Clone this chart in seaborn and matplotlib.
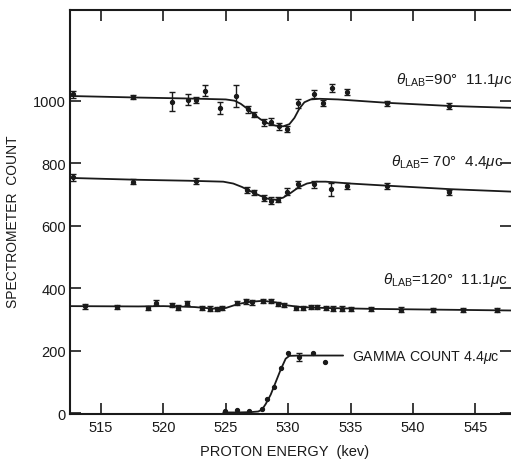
import numpy as np
import matplotlib
matplotlib.use("Agg")
import matplotlib.pyplot as plt
import seaborn as sns

# --- data --------------------------------------------------------------
# theta_lab = 90 deg, 11.1 uc
e90 = [512.8, 517.6, 520.7, 522.0, 522.6, 523.3, 524.5, 525.8, 526.8, 527.3,
       528.1, 528.6, 529.3, 529.9, 530.8, 532.1, 532.8, 533.5, 534.7, 537.9, 542.9]
c90 = [1020, 1011, 997, 1003, 1003, 1032, 977, 1016, 972, 955,
       931, 933, 918, 910, 991, 1022, 992, 1040, 1027, 992, 982]
s90 = [10, 6, 30, 18, 10, 18, 18, 35, 10, 8,
       12, 12, 12, 10, 15, 12, 10, 12, 10, 8, 10]
fit90_e = [512.5, 518, 522, 525, 525.7, 526.2, 526.7, 527.2, 527.8, 528.4, 529.0,
           529.6, 530.1, 530.5, 530.9, 531.3, 531.8, 532.5, 534, 538, 543, 548]
fit90_c = [1015, 1010, 1007, 1004, 1000, 990, 975, 958, 940, 927, 920,
           918, 925, 945, 975, 995, 1004, 1006, 1004, 993, 983, 977]

# theta_lab = 70 deg, 4.4 uc
e70 = [512.8, 517.6, 522.6, 526.7, 527.3, 528.1, 528.6, 529.2, 529.9, 530.8,
       532.1, 533.4, 534.7, 537.9, 542.9]
c70 = [755, 741, 744, 714, 707, 689, 680, 683, 709, 732,
       732, 716, 728, 726, 707]
s70 = [12, 9, 10, 10, 8, 10, 12, 8, 12, 10, 10, 20, 10, 10, 8]
fit70_e = [512.5, 518, 522, 524.8, 525.6, 526.3, 527.0, 527.7, 528.4, 529.0,
           529.6, 530.2, 530.8, 531.5, 532.3, 533, 535, 538, 543, 548]
fit70_c = [753, 747, 744, 741, 735, 724, 710, 697, 686, 683,
           690, 705, 722, 735, 741, 741, 735, 728, 717, 709]

# theta_lab = 120 deg, 11.1 uc
e120 = [513.7, 516.3, 518.8, 519.4, 520.7, 521.2, 521.9, 523.1, 523.7, 524.3,
        524.7, 525.9, 526.6, 527.1, 528.0, 528.6, 529.2, 529.7, 530.6, 531.2,
        531.8, 532.3, 533.0, 533.6, 534.3, 535.0, 536.6, 539.0, 541.6, 544.0, 546.7]
c120 = [342, 341, 337, 354, 346, 338, 352, 337, 335, 334,
        336, 352, 358, 355, 360, 360, 350, 347, 337, 337,
        341, 340, 336, 335, 335, 334, 333, 332, 331, 330, 330]
s120 = [7] * len(e120)
fit120_e = [512.5, 518, 520, 521, 522.5, 524, 525, 526, 527, 528,
            529, 530, 531, 533, 537, 548]
fit120_c = [343, 342, 343, 342, 340, 335, 337, 350, 357, 360,
            355, 345, 340, 337, 334, 329]

# gamma count, 4.4 uc
eg = [524.96, 525.9, 526.9, 527.9, 528.3, 528.9, 529.4, 529.95, 530.9, 531.96, 532.96]
cg = [6, 10, 6, 14, 46, 83, 144, 192, 180, 192, 165]
fitg_e = [524.8, 526, 527, 527.6, 527.9, 528.2, 528.6, 529.0, 529.4,
          529.8, 530.1, 531, 534.4]
fitg_c = [3, 3, 4, 6, 12, 30, 60, 100, 140, 175, 184, 185, 185]

x_ticks = [515, 520, 525, 530, 535, 540, 545]
y_ticks = [0, 200, 400, 600, 800, 1000]

# --- plot ---------------------------------------------------------------
sns.set_theme(style="ticks")
plt.rcParams["font.family"] = ["Liberation Sans", "DejaVu Sans"]
plt.rcParams["mathtext.fontset"] = "custom"
plt.rcParams["mathtext.rm"] = "Liberation Sans"
plt.rcParams["mathtext.it"] = "Liberation Sans:italic"

fig = plt.figure(figsize=(5.11, 4.6), dpi=100)
ax = fig.add_axes([70 / 511, 45 / 460, 441 / 511, 404 / 460])

ink = "#1a1a1a"
for fe, fc in [(fit90_e, fit90_c), (fit70_e, fit70_c),
               (fit120_e, fit120_c), (fitg_e, fitg_c)]:
    sns.lineplot(x=fe, y=fc, ax=ax, color=ink, linewidth=1.3, sort=False)

for e, c, s in [(e90, c90, s90), (e70, c70, s70), (e120, c120, s120)]:
    ax.errorbar(e, c, yerr=s, fmt="o", color=ink, markersize=2.8,
                elinewidth=1.0, capsize=2.5, capthick=1.0)
ax.errorbar(eg, cg, fmt="o", color=ink, markersize=2.8)
ax.errorbar([530.9], [180], yerr=[12], fmt="none", ecolor=ink,
            elinewidth=1.0, capsize=2.5)

ax.set_xlim(512.52, 547.85)
ax.set_ylim(-2, 1290)
ax.set_xticks(x_ticks)
ax.set_yticks(y_ticks)
ax.tick_params(axis="both", direction="in", length=8, width=1.2,
               colors=ink, labelsize=10.5, top=True, right=True, pad=3)
ax.tick_params(axis="x", pad=4)
for side in ["left", "bottom", "top"]:
    ax.spines[side].set_linewidth(1.5)
    ax.spines[side].set_color(ink)
ax.spines["right"].set_visible(False)

ax.set_xlabel("PROTON ENERGY  (kev)", fontsize=10.5, color=ink)
ax.set_ylabel("SPECTROMETER  COUNT", fontsize=10, color=ink)
ax.xaxis.set_label_coords(0.4875, -0.075)
ax.yaxis.set_label_coords(-0.113, 0.478)

lab = dict(fontsize=11, color=ink, va="center", ha="left")
ax.text(538.6, 1070, r"$\theta_{\rm LAB}$=90°  11.1$\mu$c", **lab)
ax.text(538.2, 807, r"$\theta_{\rm LAB}$= 70°  4.4$\mu$c", **lab)
ax.text(537.6, 430, r"$\theta_{\rm LAB}$=120°  11.1$\mu$c", **lab)
ax.text(535.1, 181, r"GAMMA COUNT 4.4$\mu$c", fontsize=10.2, color=ink,
        va="center", ha="left")

fig.savefig("out.png", dpi=100)
